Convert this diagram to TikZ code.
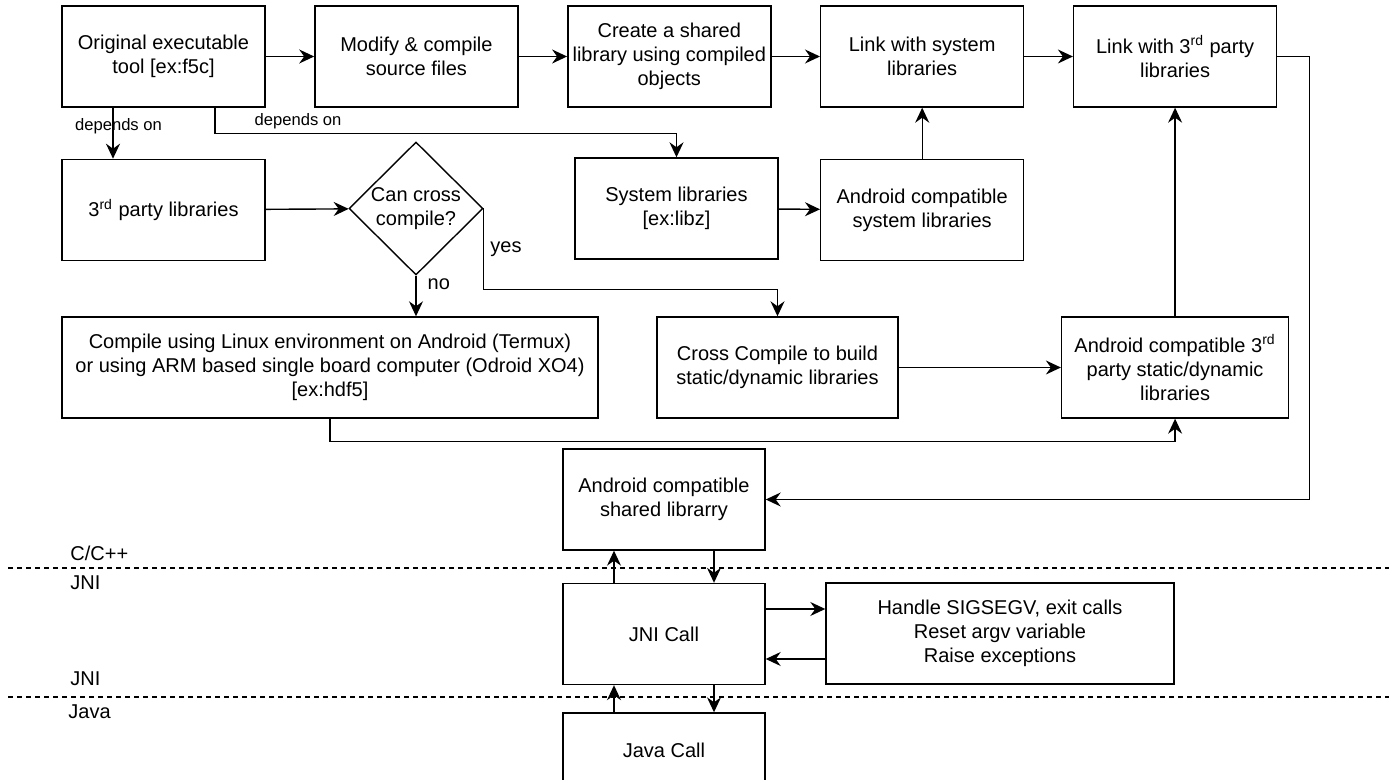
\documentclass[tikz,border=0pt]{standalone}
\usepackage{fontspec}
\setmainfont{Liberation Sans}
\usetikzlibrary{arrows.meta, positioning, shapes.geometric}

\begin{document}
\begin{tikzpicture}[
    x=0.5pt, y=-0.5pt,
    proc_box/.style={draw, line width=0.7pt, minimum width=101.5pt, minimum height=50.5pt, inner sep=1pt, align=center, font=\fontsize{10pt}{12pt}\selectfont},
    decision_node/.style={draw, diamond, line width=0.7pt, minimum width=67pt, minimum height=66.5pt, inner sep=0pt},
    arrow/.style={-{Stealth[length=7.5pt, width=7pt, inset=2.5pt]}, line width=0.7pt},
    edge_label/.style={font=\fontsize{8.3pt}{10pt}\selectfont, inner sep=1pt},
    branch_label/.style={font=\fontsize{10pt}{12pt}\selectfont, inner sep=1pt},
    layer_label/.style={anchor=west, font=\fontsize{10pt}{12pt}\selectfont, inner sep=0pt},
    layer_sep/.style={dash pattern=on 2.5pt off 2pt, line width=0.7pt}
]
    \clip (0,0) rectangle (1389,780);

    % Top row: build steps
    \node[proc_box] (orig_tool) at (163.5,56.5) {Original executable\\tool [ex:f5c]};
    \node[proc_box, right=24.25pt of orig_tool] (modify_src) {Modify \& compile\\source files};
    \node[proc_box, right=24.25pt of modify_src] (create_lib) {Create a shared\\library using compiled\\objects};
    \node[proc_box, right=24.25pt of create_lib] (link_sys) {Link with system\\libraries};
    \node[proc_box, right=24.25pt of link_sys] (link_3rd) {Link with 3\textsuperscript{rd} party\\libraries};

    % Dependencies
    \node[proc_box, below=25.5pt of orig_tool] (third_party) {3\textsuperscript{rd} party libraries};
    \node[decision_node, label={[align=center, font=\fontsize{10pt}{12pt}\selectfont]center:Can cross\\compile?}] (cross) at (416,208.5) {};
    \node[proc_box] (sys_lib) at (676.5,208.5) {System libraries\\{}[ex:libz]};
    \node[proc_box, below=25.5pt of link_sys] (and_sys) {Android compatible\\system libraries};

    % Ways to build the 3rd party libraries
    \node[proc_box, minimum width=268pt] (compile_linux) at (330,367.5) {Compile using Linux environment on Android (Termux)\\or using ARM based single board computer (Odroid XO4)\\{}[ex:hdf5]};
    \node[proc_box, minimum width=120.5pt] (cross_comp) at (777.5,367.5) {Cross Compile to build\\static/dynamic libraries};
    \node[proc_box, minimum width=113.5pt] (and_3rd) at (link_3rd |- cross_comp) {Android compatible 3\textsuperscript{rd}\\party static/dynamic\\libraries};

    % Layers
    \node[proc_box, minimum width=101pt] (shared_lib) at (664,499.5) {Android compatible\\shared librarry};
    \node[proc_box, minimum width=101pt] (jni_call) at (664,634) {JNI Call};
    \node[proc_box, minimum width=174pt] (handle) at (1000,633.5) {Handle SIGSEGV, exit calls\\Reset argv variable\\Raise exceptions};
    \node[proc_box, minimum width=101pt, minimum height=37pt] (java_call) at (664,750) {Java Call};

    % Layer separators and names
    \draw[layer_sep] (8,568) -- (1389,568);
    \draw[layer_sep] (8,697) -- (1389,697);
    \node[layer_label] (lbl_cpp) at (70,553) {C/C++};
    \node[layer_label] (lbl_jni_a) at (70,583) {JNI};
    \node[layer_label] (lbl_jni_b) at (70,679) {JNI};
    \node[layer_label] (lbl_java) at (68,712) {Java};

    % Top row arrows
    \draw[arrow] (orig_tool) -- (modify_src);
    \draw[arrow] (modify_src) -- (create_lib);
    \draw[arrow] (create_lib) -- (link_sys);
    \draw[arrow] (link_sys) -- (link_3rd);

    % depends on
    \draw[arrow] ([xshift=-25.25pt]orig_tool.south) -- ([xshift=-25.25pt]third_party.north)
        node[pos=0.37, xshift=2.75pt, edge_label] {depends on};
    \draw[arrow] ([xshift=25.75pt]orig_tool.south) -- ++(0,26) -| (sys_lib.north)
        node[pos=0.09, above=1pt, edge_label] {depends on};

    % Library routes
    \draw[arrow] (third_party) -- (cross);
    \draw[arrow] (cross.south) -- (cross.south |- compile_linux.north)
        node[pos=0.21, right=4.5pt, branch_label] {no};
    \draw[arrow] (cross.east) -- ++(0,81) node[midway, right=2pt, branch_label] {yes}
        -| (cross_comp.north);
    \draw[arrow] (sys_lib) -- (and_sys);
    \draw[arrow] (and_sys) -- (link_sys);
    \draw[arrow] (cross_comp) -- (and_3rd);
    \draw[arrow] (and_3rd) -- (link_3rd);
    \draw[arrow] (compile_linux.south) -- ++(0,23) -| (and_3rd.south);
    \draw[arrow] (link_3rd.east) -- ++(32,0) |- (shared_lib.east);

    % Calls across the layers
    \draw[arrow] ([xshift=-25pt]jni_call.north) -- ([xshift=-25pt]shared_lib.south);
    \draw[arrow] ([xshift=25pt]shared_lib.south) -- ([xshift=25pt]jni_call.north);
    \draw[arrow] ([yshift=12.5pt]jni_call.east) -- ([yshift=12.5pt]jni_call.east -| handle.west);
    \draw[arrow] ([yshift=-12.5pt]jni_call.east -| handle.west) -- ([yshift=-12.5pt]jni_call.east);
    \draw[arrow] ([xshift=-25pt]java_call.north) -- ([xshift=-25pt]jni_call.south);
    \draw[arrow] ([xshift=25pt]jni_call.south) -- ([xshift=25pt]java_call.north);

\end{tikzpicture}
\end{document}
